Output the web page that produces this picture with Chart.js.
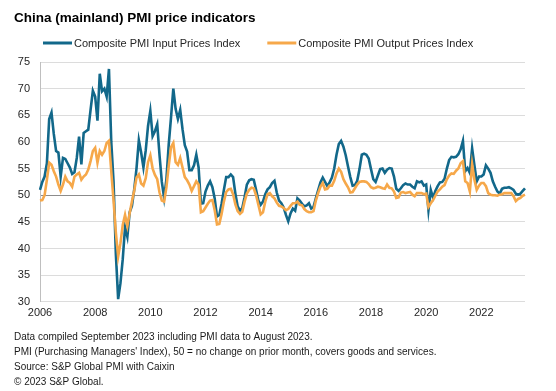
<!DOCTYPE html>
<html>
<head>
<meta charset="utf-8">
<script src="https://cdn.jsdelivr.net/npm/chart.js@4.4.0/dist/chart.umd.min.js"></script>
<style>
  html, body { margin: 0; padding: 0; background: #fff; }
</style>
</head>
<body>
<canvas id="pmiChart" width="556" height="391"></canvas>
<script>
// monthly series, Jan 2006 .. Aug 2023
const startYear = 2006;
const yearTicks = ['2006', '2008', '2010', '2012', '2014', '2016', '2018', '2020', '2022'];

const inputPrices = [
    51.0, 52.5, 53.5, 56.0, 64.3, 65.5, 61.5, 58.3, 58.0, 53.5, 57.0, 56.8, // 2006
    56.0, 55.2, 54.0, 54.3, 57.0, 61.0, 55.8, 61.7, 62.0, 62.3, 66.0, 69.6, // 2007
    68.5, 64.0, 72.8, 69.5, 70.0, 68.5, 73.7, 60.0, 52.5, 39.0, 30.5, 33.5, // 2008
    38.0, 44.0, 42.2, 46.8, 48.0, 51.1, 55.1, 60.3, 58.0, 55.2, 58.4, 63.0, // 2009
    65.8, 61.1, 62.0, 63.3, 57.5, 52.5, 49.5, 53.0, 59.5, 64.6, 70.0, 66.2, // 2010
    64.3, 66.0, 62.4, 59.4, 58.2, 54.7, 54.7, 55.6, 57.6, 55.2, 48.4, 48.5, // 2011
    50.7, 51.8, 52.6, 51.5, 49.4, 46.0, 46.3, 48.4, 51.0, 53.4, 53.4, 53.9, // 2012
    53.4, 50.3, 47.9, 47.1, 47.6, 49.6, 52.0, 52.8, 53.0, 52.9, 51.0, 49.0, // 2013
    48.2, 48.8, 50.2, 51.1, 51.5, 52.3, 52.7, 50.5, 49.0, 48.5, 47.7, 46.3, // 2014
    45.1, 46.6, 47.5, 47.1, 49.4, 49.0, 48.4, 47.9, 48.1, 48.5, 47.5, 47.8, // 2015
    49.4, 50.9, 52.4, 53.3, 52.5, 51.7, 52.4, 53.3, 55.0, 57.6, 59.6, 60.2, // 2016
    59.1, 57.5, 55.4, 53.4, 51.8, 51.9, 52.7, 54.9, 57.6, 57.8, 57.6, 56.9, // 2017
    54.9, 53.0, 52.5, 53.7, 54.9, 55.0, 54.2, 54.8, 55.1, 55.0, 53.5, 51.2, // 2018
    50.8, 51.3, 51.9, 52.2, 52.0, 52.0, 51.6, 51.3, 52.6, 52.4, 52.6, 51.8, // 2019
    52.0, 47.2, 51.0, 49.5, 50.8, 51.7, 52.4, 52.5, 53.1, 55.0, 56.6, 57.2, // 2020
    57.1, 57.2, 57.7, 58.6, 60.2, 54.5, 55.1, 54.2, 58.8, 55.6, 52.6, 53.5, // 2021
    53.5, 53.9, 55.6, 55.0, 54.2, 52.6, 51.6, 50.7, 50.3, 51.2, 51.4, 51.4, // 2022
    51.5, 51.3, 51.0, 50.3, 50.1, 50.3, 50.8, 51.3                          // 2023
];

const outputPrices = [
    49.0, 49.1, 50.0, 52.9, 56.1, 55.7, 54.5, 53.5, 52.0, 50.8, 52.0, 53.5, // 2006
    52.6, 52.3, 51.6, 53.5, 53.9, 54.2, 52.9, 53.5, 53.9, 54.8, 56.4, 58.3, // 2007
    58.9, 56.1, 58.3, 57.6, 58.3, 59.8, 60.2, 54.5, 49.0, 43.0, 38.5, 41.0, // 2008
    44.4, 46.3, 44.2, 46.6, 48.8, 50.9, 53.3, 53.9, 52.2, 51.8, 53.2, 56.2, // 2009
    57.5, 55.0, 53.8, 53.0, 50.5, 49.0, 48.8, 51.5, 55.5, 59.0, 59.8, 56.2, // 2010
    55.7, 57.0, 55.2, 53.4, 52.8, 52.0, 50.8, 51.7, 52.6, 52.0, 46.8, 47.0, // 2011
    47.7, 48.4, 49.0, 49.1, 47.2, 44.5, 44.6, 46.5, 48.8, 50.6, 51.1, 51.2, // 2012
    50.2, 48.3, 47.0, 46.5, 46.9, 48.8, 50.3, 51.0, 51.4, 51.3, 50.0, 48.2, // 2013
    46.4, 46.8, 48.8, 50.2, 50.4, 49.8, 49.4, 48.6, 48.0, 47.9, 47.6, 47.2, // 2014
    47.4, 48.0, 48.5, 48.5, 48.8, 48.2, 48.1, 47.4, 47.0, 46.8, 46.8, 47.0, // 2015
    49.0, 50.4, 51.6, 52.3, 51.1, 51.2, 51.8, 51.8, 52.7, 54.1, 55.0, 54.4, // 2016
    53.0, 52.2, 51.5, 50.5, 50.6, 51.3, 52.0, 52.5, 52.6, 52.6, 52.5, 52.1, // 2017
    51.5, 51.3, 51.4, 51.6, 51.5, 51.3, 51.2, 52.0, 51.4, 51.3, 50.7, 49.5, // 2018
    49.6, 50.5, 50.6, 50.4, 50.5, 50.6, 50.1, 49.8, 50.4, 50.4, 50.4, 50.2, // 2019
    50.3, 47.8, 48.5, 49.1, 49.9, 50.7, 51.1, 51.6, 51.9, 53.0, 53.7, 54.1, // 2020
    54.0, 54.6, 55.0, 56.0, 56.4, 52.6, 52.3, 50.7, 55.8, 52.9, 51.0, 51.8, // 2021
    52.3, 52.3, 51.7, 50.4, 50.1, 50.0, 50.0, 49.9, 50.1, 50.2, 50.4, 50.4, // 2022
    50.4, 50.4, 49.8, 48.9, 49.3, 49.5, 49.9, 50.1                          // 2023
];

const months = inputPrices.map((v, i) => {
    const y = startYear + Math.floor(i / 12);
    const m = (i % 12) + 1;
    return y + '-' + (m < 10 ? '0' + m : m);
});

const fontFamily = 'Arial, "Liberation Sans", sans-serif';
Chart.defaults.font.family = fontFamily;
Chart.defaults.color = '#262626';

// legend drawn by hand so it sits where the original has it
const lineLegend = {
    id: 'lineLegend',
    afterDraw(chart) {
        const ctx = chart.ctx;
        const y = 43;
        let x = 43;
        ctx.save();
        ctx.font = '11px ' + fontFamily;
        ctx.textBaseline = 'middle';
        chart.data.datasets.forEach(ds => {
            ctx.strokeStyle = ds.borderColor;
            ctx.lineWidth = 3;
            ctx.beginPath();
            ctx.moveTo(x, y);
            ctx.lineTo(x + 29, y);
            ctx.stroke();
            ctx.fillStyle = '#262626';
            ctx.fillText(ds.label, x + 31, y + 0.5);
            x += 31 + ctx.measureText(ds.label).width + 27;
        });
        ctx.restore();
    }
};

const config = {
    type: 'line',
    data: {
        labels: months,
        datasets: [{
            label: 'Composite PMI Input Prices Index',
            data: inputPrices,
            borderColor: '#12688a',
            backgroundColor: '#12688a',
            borderWidth: 2.6,
            pointRadius: 0,
            tension: 0,
            order: 2
        }, {
            label: 'Composite PMI Output Prices Index',
            data: outputPrices,
            borderColor: '#f6a84a',
            backgroundColor: '#f6a84a',
            borderWidth: 2.6,
            pointRadius: 0,
            tension: 0,
            order: 1
        }]
    },
    options: {
        responsive: false,
        animation: false,
        layout: {
            padding: { left: 14, right: 31, top: 0, bottom: 0 }
        },
        plugins: {
            legend: { display: false },
            tooltip: { enabled: false },
            title: {
                display: true,
                text: 'China (mainland) PMI price indicators',
                align: 'start',
                color: '#000',
                font: { size: 13.5, weight: 'bold' },
                padding: { top: 10, bottom: 35.8 }
            },
            subtitle: {
                display: true,
                position: 'bottom',
                align: 'start',
                color: '#1a1a1a',
                font: { size: 10, lineHeight: 1.5 },
                padding: { top: 5, bottom: 1 },
                text: [
                    'Data compiled September 2023 including PMI data to August 2023.',
                    'PMI (Purchasing Managers\' Index), 50 = no change on prior month, covers goods and services.',
                    'Source: S&P Global PMI with Caixin',
                    '\u00A9 2023 S&P Global.'
                ]
            }
        },
        scales: {
            x: {
                grid: { display: false, drawTicks: false },
                border: { display: false },
                ticks: {
                    autoSkip: false,
                    maxRotation: 0,
                    padding: 5,
                    font: { size: 11 },
                    callback: function (val) {
                        const lab = this.getLabelForValue(val);
                        const yr = lab.slice(0, 4);
                        return lab.endsWith('-01') && yearTicks.includes(yr) ? yr : '';
                    }
                }
            },
            y: {
                min: 30,
                max: 75,
                afterFit: scale => { scale.width = 26; },
                border: { display: true, color: '#bfbfbf' },
                grid: {
                    drawTicks: false,
                    color: ctx => ctx.tick.value === 50 ? '#8c8c8c' : '#dcdcdc'
                },
                ticks: {
                    stepSize: 5,
                    padding: 10,
                    font: { size: 11 }
                }
            }
        }
    },
    plugins: [lineLegend]
};

const ctx = document.getElementById('pmiChart').getContext('2d');
new Chart(ctx, config);
</script>
</body>
</html>
